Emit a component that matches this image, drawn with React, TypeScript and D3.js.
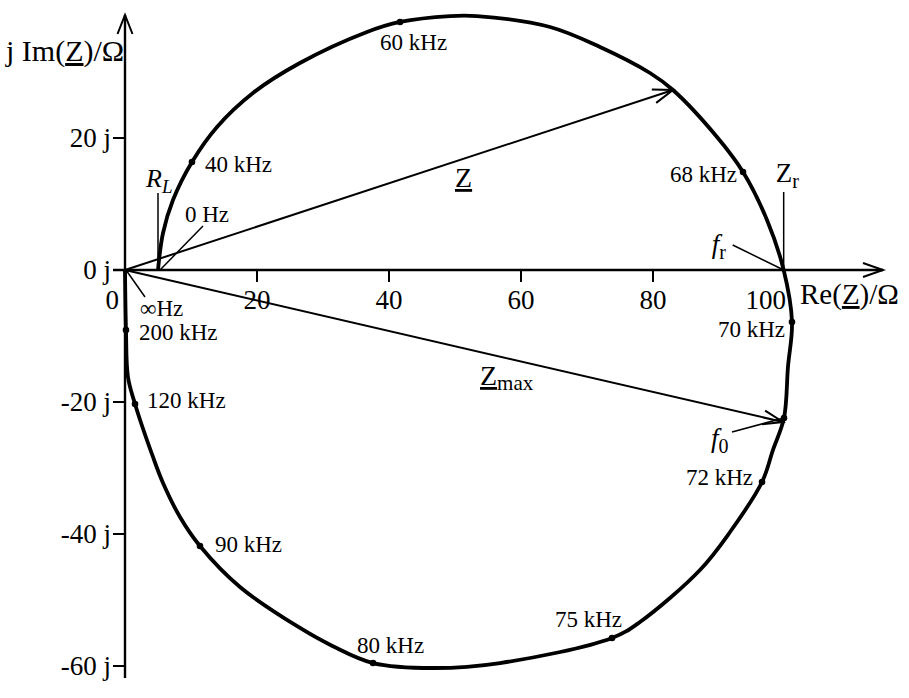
import React from "react";
import * as d3 from "d3";

// Locus curve of the impedance (from 0 Hz to ∞ Hz), values in Ω
const curveRe = [5.0, 5.76, 7.27, 10.15, 13.94, 19.39, 26.5, 36.67, 41.67, 49.24, 53.33, 64.39, 71.97, 79.55, 83.03, 89.7, 93.64, 97.27, 99.8, 101.06, 100.45, 99.85, 98.18, 96.52, 91.67, 87.12, 78.03, 73.79, 56.82, 46.67, 37.58, 31.5, 26.52, 17.42, 11.36, 8.33, 5.76, 4.24, 1.52, 0.45, 0.15, 0];
const curveIm = [0, 5.61, 10.6, 16.36, 21.67, 26.82, 31.36, 36.06, 37.58, 38.48, 38.48, 36.82, 33.79, 29.85, 27.27, 20.15, 14.85, 7.58, 0, -7.88, -14.7, -22.42, -27.27, -32.12, -39.7, -45.45, -53.33, -55.76, -59.55, -60.3, -59.55, -57.0, -54.24, -48.03, -41.82, -37.42, -32.27, -28.33, -20.3, -16.21, -9.09, 0];

// Frequency markers
const markerLabels = ["40 kHz", "60 kHz", "68 kHz", "70 kHz", "f0", "72 kHz", "75 kHz", "80 kHz", "90 kHz", "120 kHz", "200 kHz"];
const markerRe = [10.15, 41.67, 93.64, 101.06, 99.85, 96.52, 73.79, 37.58, 11.36, 1.52, 0.15];
const markerIm = [16.36, 37.58, 14.85, -7.88, -22.42, -32.12, -55.76, -59.55, -41.82, -20.3, -9.09];

// Phasors
const zRe = 83.03, zIm = 27.27;       // Z
const zMaxRe = 99.85, zMaxIm = -22.42; // Z_max at f0
const rL = 5.0;                         // R_L at 0 Hz
const zR = 99.8;                        // Z_r at f_r

// Axis ticks
const xTicks = [0, 20, 40, 60, 80, 100];
const yTicks = [20, 0, -20, -40, -60];

// label layout (pixels relative to marker)
const labelLayout: Record<string, { dx: number; dy: number; anchor: string }> = {
  "40 kHz": { dx: 13, dy: 10, anchor: "start" },
  "60 kHz": { dx: -20, dy: 28, anchor: "start" },
  "68 kHz": { dx: -6, dy: 10, anchor: "end" },
  "70 kHz": { dx: -7, dy: 15, anchor: "end" },
  "72 kHz": { dx: -9, dy: 3, anchor: "end" },
  "75 kHz": { dx: -57, dy: -11, anchor: "start" },
  "80 kHz": { dx: -16, dy: -10, anchor: "start" },
  "90 kHz": { dx: 15, dy: 6, anchor: "start" },
  "120 kHz": { dx: 12, dy: 4, anchor: "start" },
  "200 kHz": { dx: 13, dy: 10, anchor: "start" },
};

const FONT = "'Liberation Serif', 'Times New Roman', serif";

function arrowHead(x1: number, y1: number, x2: number, y2: number, len: number, half: number) {
  const a = Math.atan2(y2 - y1, x2 - x1);
  const bx = x2 - len * Math.cos(a), by = y2 - len * Math.sin(a);
  const px = -Math.sin(a) * half, py = Math.cos(a) * half;
  return `M${bx + px},${by + py}L${x2},${y2}L${bx - px},${by - py}`;
}

export default function App() {
  const W = 909, H = 698;
  const x = d3.scaleLinear().domain([0, 100]).range([125, 785]);
  const y = d3.scaleLinear().domain([0, 20]).range([270, 138]);

  const pts: [number, number][] = curveRe.map((r, i) => [r, curveIm[i]]);
  const line = d3.line<[number, number]>().x(d => x(d[0])).y(d => y(d[1])).curve(d3.curveCatmullRom.alpha(0.5));

  const x0 = x(0), y0 = y(0);
  const xAxisEnd = 883, yAxisTop = 15, yAxisBottom = 678;

  const zx = x(zRe), zy = y(zIm);
  const zmx = x(zMaxRe), zmy = y(zMaxIm) + 4;

  return (
    <svg width={W} height={H} style={{ position: "absolute", left: 0, top: 0, background: "#fff" }} fontFamily={FONT}>
      <rect width={W} height={H} fill="#fff" />
      {/* axes */}
      <line x1={113} y1={y0} x2={xAxisEnd} y2={y0} stroke="#000" strokeWidth={2.4} />
      <path d={arrowHead(113, y0, xAxisEnd, y0, 20, 7)} fill="none" stroke="#000" strokeWidth={2} />
      <line x1={x0} y1={yAxisBottom} x2={x0} y2={yAxisTop} stroke="#000" strokeWidth={2.4} />
      <path d={arrowHead(x0, yAxisBottom, x0, yAxisTop, 19, 7.5)} fill="none" stroke="#000" strokeWidth={2} />

      {/* x ticks */}
      {xTicks.filter(t => t > 0 && t < 100).map(t => (
        <line key={"xt" + t} x1={x(t)} x2={x(t)} y1={y0} y2={y0 + 12} stroke="#000" strokeWidth={2} />
      ))}
      {xTicks.map(t => (
        <text key={"xl" + t} x={t === 0 ? x(t) - 6 : t === 100 ? x(t) + 1 : x(t)} y={309} fontSize={27}
          textAnchor={t === 0 || t === 100 ? "end" : "middle"}>{t}</text>
      ))}
      {/* y ticks */}
      {yTicks.filter(t => t !== 0).map(t => (
        <line key={"yt" + t} x1={x0 - 12} x2={x0} y1={y(t)} y2={y(t)} stroke="#000" strokeWidth={2} />
      ))}
      {yTicks.map(t => (
        <text key={"yl" + t} x={111} y={y(t) + 9} fontSize={27} textAnchor="end">{t} j</text>
      ))}

      {/* axis titles */}
      <text x={6} y={61} fontSize={30}>j Im(<tspan style={{ textDecoration: "underline" }}>Z</tspan>)/Ω</text>
      <text x={800} y={304} fontSize={29}>Re(<tspan style={{ textDecoration: "underline" }}>Z</tspan>)/Ω</text>

      {/* phasors */}
      <line x1={x0} y1={y0} x2={zx} y2={zy} stroke="#000" strokeWidth={2} />
      <path d={arrowHead(x0, y0, zx, zy, 20, 7)} fill="none" stroke="#000" strokeWidth={2} />
      <line x1={x0} y1={y0} x2={zmx - 1} y2={zmy} stroke="#000" strokeWidth={2} />
      <path d={arrowHead(x0, y0, zmx - 1, zmy, 20, 7)} fill="none" stroke="#000" strokeWidth={2} />

      {/* locus curve */}
      <path d={line(pts) || ""} fill="none" stroke="#000" strokeWidth={3.8} strokeLinejoin="round" />

      {/* markers */}
      {markerLabels.map((l, i) => (
        <circle key={"m" + l} cx={x(markerRe[i])} cy={y(markerIm[i])} r={3.3} fill="#000" />
      ))}
      {markerLabels.filter(l => labelLayout[l]).map(l => {
        const i = markerLabels.indexOf(l);
        const lay = labelLayout[l];
        return (
          <text key={"ml" + l} x={x(markerRe[i]) + lay.dx} y={y(markerIm[i]) + lay.dy} fontSize={23}
            textAnchor={lay.anchor}>{l}</text>
        );
      })}

      {/* leader lines */}
      <line x1={x(rL)} y1={y0} x2={x(rL)} y2={y0 - 77} stroke="#000" strokeWidth={1.5} />
      <line x1={x(rL) + 2} y1={y0} x2={x(rL) + 45} y2={y0 - 44} stroke="#000" strokeWidth={1.5} />
      <line x1={x0 + 1} y1={y0} x2={x0 + 20} y2={y0 + 27} stroke="#000" strokeWidth={1.5} />
      <line x1={x(zR)} y1={y0} x2={x(zR)} y2={y0 - 78} stroke="#000" strokeWidth={1.5} />
      <line x1={x(zR)} y1={y0} x2={x(zR) - 51} y2={y0 - 25} stroke="#000" strokeWidth={1.5} />
      <line x1={x(zMaxRe)} y1={y(zMaxIm)} x2={x(zMaxRe) - 52} y2={y(zMaxIm) + 14} stroke="#000" strokeWidth={1.5} />

      {/* annotation labels */}
      <text x={x(rL) - 12} y={y0 - 83} fontSize={26} fontStyle="italic">R<tspan fontSize={19} dy={6}>L</tspan></text>
      <text x={x(rL) + 27} y={y0 - 48} fontSize={23}>0 Hz</text>
      <text x={x0 + 15} y={y0 + 46} fontSize={23}>∞Hz</text>
      <text x={x(zR) - 8} y={y0 - 88} fontSize={27}>Z<tspan fontSize={20} dy={6}>r</tspan></text>
      <text x={x(zR) - 72} y={y0 - 17} fontSize={27} fontStyle="italic">f<tspan fontSize={20} dy={6} fontStyle="normal">r</tspan></text>
      <text x={x(zMaxRe) - 73} y={y(zMaxIm) + 29} fontSize={27} fontStyle="italic">f<tspan fontSize={20} dy={6} fontStyle="normal">0</tspan></text>
      <text x={455} y={187} fontSize={28}><tspan style={{ textDecoration: "underline" }}>Z</tspan></text>
      <text x={480} y={385} fontSize={28}><tspan style={{ textDecoration: "underline" }}>Z</tspan><tspan fontSize={21} dy={5}>max</tspan></text>
    </svg>
  );
}
